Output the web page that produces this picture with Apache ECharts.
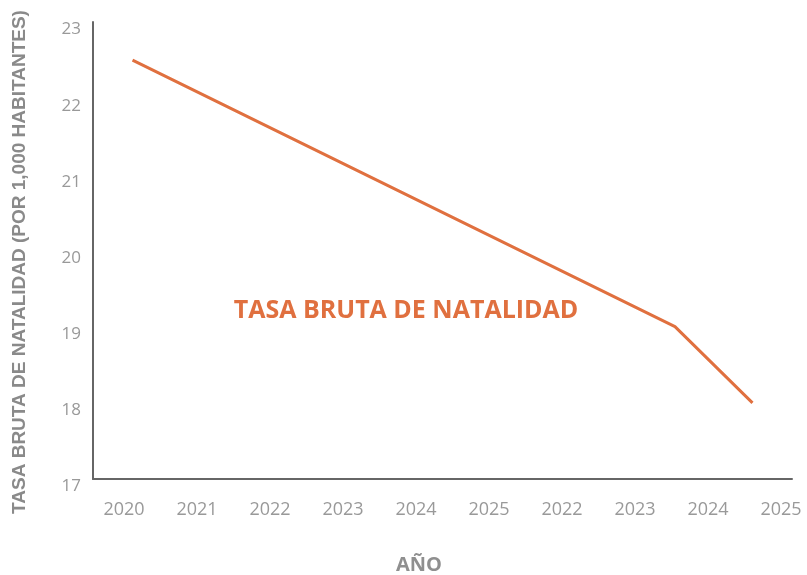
<!DOCTYPE html>
<html>
<head>
<meta charset="utf-8">
<script src="https://cdn.jsdelivr.net/npm/echarts@6/dist/echarts.min.js"></script>
<style>
  html, body { margin: 0; padding: 0; background: #fff; }
  #chart { width: 807px; height: 575px; }
</style>
</head>
<body>
<div id="chart"></div>
<script>
// tick labels on the x axis (as printed in the chart)
const years = ['2020', '2021', '2022', '2023', '2024', '2025', '2022', '2023', '2024', '2025']
// line vertices: position along the line axis and rate value
const linePos = [0, 7, 8]
const rate = [22.5, 19.0, 18.0]
const yTicks = [17, 18, 19, 20, 21, 22, 23]

const orange = '#e0703f'
const grey = '#999'

const chart = echarts.init(document.getElementById('chart'))

chart.setOption({
  animation: false,
  grid: [
    { left: 93, right: 15, top: 22, bottom: 96 },   // axes + line
    { left: 124, right: 26, top: 22, bottom: 96 }   // year labels
  ],
  xAxis: [{
    type: 'value',
    gridIndex: 0,
    min: -0.51,
    max: 8.51,
    axisLine: { show: true, onZero: false, lineStyle: { color: '#666', width: 2 } },
    axisTick: { show: false },
    axisLabel: { show: false },
    splitLine: { show: false }
  }, {
    type: 'category',
    gridIndex: 1,
    data: years,
    boundaryGap: false,
    axisLine: { show: false },
    axisTick: { show: false },
    splitLine: { show: false },
    axisLabel: {
      color: grey,
      fontFamily: 'Open Sans',
      fontSize: 18,
      margin: 22
    }
  }],
  yAxis: [{
    type: 'value',
    gridIndex: 0,
    min: yTicks[0],
    max: yTicks[yTicks.length - 1],
    interval: 1,
    axisLine: { show: true, onZero: false, lineStyle: { color: '#666', width: 2 } },
    axisTick: { show: false },
    splitLine: { show: false },
    axisLabel: {
      color: grey,
      fontFamily: 'Open Sans',
      fontSize: 17,
      margin: 12,
      verticalAlign: 'top',
      lineHeight: 15
    }
  }, {
    type: 'value',
    gridIndex: 1,
    show: false,
    min: 17,
    max: 23
  }],
  graphic: [{
    type: 'text',
    x: 20,
    y: 262,
    rotation: Math.PI / 2,
    style: {
      text: 'TASA BRUTA DE NATALIDAD (POR 1,000 HABITANTES)',
      fill: '#8a8a8a',
      font: 'bold 19px "Liberation Sans"',
      align: 'center',
      verticalAlign: 'middle'
    }
  }, {
    type: 'text',
    x: 419,
    y: 565,
    style: {
      text: 'AÑO',
      fill: '#8f8f8f',
      font: 'bold 20px "Open Sans"',
      align: 'center',
      verticalAlign: 'middle'
    }
  }, {
    type: 'text',
    x: 406,
    y: 311,
    style: {
      text: 'TASA BRUTA DE NATALIDAD',
      fill: orange,
      font: 'bold 25px "Open Sans"',
      align: 'center',
      verticalAlign: 'middle'
    }
  }],
  series: [{
    type: 'line',
    xAxisIndex: 0,
    yAxisIndex: 0,
    data: linePos.map((p, i) => [p, rate[i]]),
    symbol: 'none',
    lineStyle: { color: orange, width: 3 }
  }]
})
</script>
</body>
</html>
